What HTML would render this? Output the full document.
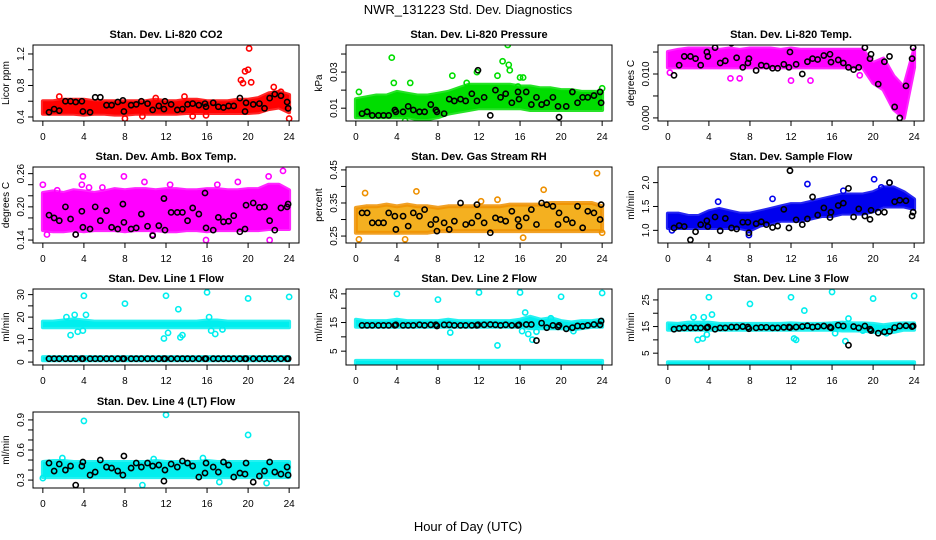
<!DOCTYPE html>
<html><head><meta charset="utf-8"><style>
html,body{margin:0;padding:0;background:#fff;}
svg{display:block;font-family:"Liberation Sans",sans-serif;}
</style></head><body>
<svg id="chart" width="936" height="540" viewBox="0 0 936 540" xmlns="http://www.w3.org/2000/svg">
<text x="468" y="14" text-anchor="middle" font-size="13">NWR_131223 Std. Dev. Diagnostics</text>
<text x="468" y="531" text-anchor="middle" font-size="13">Hour of Day (UTC)</text>
</svg>
<script>
const hours = [0,1,2,3,4,5,6,7,8,9,10,11,12,13,14,15,16,17,18,19,20,21,22,23,24];
const xTicks = [0,4,8,12,16,20,24];
const blkX = [0.6,1.1,1.6,2.2,2.7,3.2,3.8,3.9,4.6,5.1,5.6,6.2,6.7,7.3,7.8,7.9,8.6,9.1,9.6,10.2,10.7,11.3,11.8,11.9,12.5,13.1,13.6,14.1,14.6,15.2,15.8,15.9,16.6,17.1,17.6,18.1,18.6,19.2,19.7,19.8,20.5,21.1,21.6,22.1,22.6,23.2,23.8,23.9];

const co2Lo = [0.44,0.44,0.44,0.44,0.43,0.44,0.44,0.43,0.43,0.44,0.44,0.44,0.44,0.44,0.45,0.45,0.45,0.45,0.45,0.45,0.45,0.46,0.5,0.52,0.46];
const co2Hi = [0.6,0.6,0.62,0.62,0.62,0.6,0.6,0.6,0.6,0.6,0.6,0.62,0.6,0.6,0.62,0.62,0.6,0.6,0.6,0.62,0.62,0.64,0.7,0.72,0.68];
const co2OutX = [19.3,19.5,19.7,20,20.1,20.3,8,9.7,15.9,14.6,24,1.6,11,13.8,22.5,23.2];
const co2OutY = [0.87,0.83,0.98,1.0,1.27,0.84,0.38,0.41,0.42,0.41,0.38,0.66,0.64,0.66,0.78,0.72];
const co2Blk = [0.46,0.5,0.48,0.6,0.6,0.59,0.6,0.47,0.46,0.65,0.65,0.55,0.55,0.59,0.61,0.47,0.55,0.56,0.6,0.57,0.49,0.54,0.5,0.6,0.56,0.49,0.5,0.56,0.57,0.55,0.57,0.53,0.58,0.53,0.52,0.54,0.54,0.64,0.47,0.58,0.56,0.57,0.51,0.64,0.69,0.67,0.59,0.51];

const presLo = [0.005,0.005,0.005,0.005,0.005,0.005,0.004,0.004,0.005,0.007,0.008,0.009,0.01,0.01,0.01,0.01,0.01,0.009,0.009,0.009,0.009,0.009,0.009,0.009,0.009];
const presHi = [0.015,0.016,0.017,0.017,0.019,0.018,0.017,0.017,0.018,0.019,0.021,0.023,0.023,0.023,0.023,0.023,0.022,0.022,0.021,0.021,0.02,0.02,0.019,0.019,0.019];
const presOutX = [3.5,14.8,14.3,14.9,11.8,13.8,9.4,3.7,5.3,16,4.8,24,0.3,10.8,16.3,15,15.8];
const presOutY = [0.038,0.045,0.036,0.034,0.03,0.028,0.028,0.024,0.024,0.027,0.003,0.021,0.019,0.024,0.027,0.031,0.022];
const presBlk = [0.007,0.008,0.006,0.006,0.006,0.006,0.009,0.008,0.008,0.011,0.009,0.008,0.008,0.012,0.009,0.008,0.007,0.015,0.014,0.015,0.014,0.018,0.014,0.031,0.016,0.006,0.02,0.016,0.018,0.013,0.019,0.015,0.019,0.012,0.016,0.012,0.013,0.016,0.011,0.005,0.011,0.019,0.013,0.016,0.016,0.017,0.019,0.013];

const tempLo = [0.0115,0.0115,0.0115,0.0115,0.0115,0.0115,0.0115,0.0115,0.0115,0.0115,0.0115,0.0115,0.0115,0.0115,0.0115,0.0115,0.0115,0.0115,0.0115,0.0115,0.008,0.0065,0.002,0.0,0.0115];
const tempHi = [0.015,0.0155,0.0158,0.0158,0.0158,0.0155,0.0158,0.0155,0.0158,0.0158,0.0158,0.0155,0.0158,0.0155,0.0155,0.0155,0.0155,0.0155,0.0155,0.0155,0.0125,0.0135,0.0095,0.007,0.0155];
const tempOutX = [6.1,7,12,13.9,18.7,21.8,0.2];
const tempOutY = [0.009,0.009,0.0085,0.0085,0.0097,0.0078,0.0103];
const tempBlk = [0.0097,0.012,0.014,0.014,0.0135,0.012,0.015,0.014,0.016,0.0125,0.013,0.017,0.0137,0.0115,0.0125,0.0135,0.0108,0.012,0.0118,0.0113,0.0113,0.0122,0.0115,0.015,0.0122,0.01,0.0128,0.0135,0.0133,0.0142,0.0145,0.0127,0.0132,0.0125,0.0115,0.011,0.0115,0.016,0.0135,0.0145,0.0077,0.0128,0.014,0.0025,0.0,0.0073,0.0135,0.016];

const ambLo = [0.158,0.156,0.156,0.158,0.156,0.158,0.158,0.158,0.156,0.158,0.158,0.158,0.156,0.156,0.158,0.158,0.156,0.158,0.158,0.158,0.158,0.158,0.16,0.16,0.16];
const ambHi = [0.225,0.228,0.225,0.23,0.228,0.225,0.228,0.232,0.23,0.232,0.232,0.23,0.232,0.232,0.23,0.23,0.232,0.232,0.23,0.23,0.232,0.232,0.24,0.24,0.23];
const ambOutX = [0,0.4,3.9,3.8,4.5,7.9,9.9,15.9,22.1,23.4,22,19,12.4,1.4,5.8,17,3.2,10.7];
const ambOutY = [0.24,0.15,0.255,0.24,0.235,0.255,0.245,0.14,0.14,0.265,0.255,0.245,0.24,0.23,0.235,0.24,0.15,0.15];
const ambBlk = [0.185,0.18,0.175,0.2,0.178,0.15,0.192,0.163,0.16,0.2,0.175,0.193,0.163,0.16,0.205,0.172,0.16,0.162,0.187,0.165,0.148,0.166,0.215,0.158,0.19,0.19,0.19,0.175,0.198,0.187,0.225,0.162,0.158,0.181,0.173,0.174,0.184,0.155,0.16,0.203,0.207,0.199,0.2,0.175,0.158,0.198,0.2,0.205];

const rhLo = [0.26,0.26,0.26,0.26,0.26,0.26,0.26,0.26,0.265,0.265,0.265,0.265,0.265,0.265,0.265,0.265,0.265,0.265,0.265,0.265,0.265,0.265,0.265,0.265,0.265];
const rhHi = [0.335,0.34,0.34,0.345,0.34,0.345,0.34,0.34,0.335,0.34,0.34,0.34,0.34,0.34,0.34,0.345,0.345,0.345,0.345,0.35,0.35,0.35,0.35,0.35,0.34];
const rhOutX = [23.5,18.3,0.9,5.9,4.8,0.3,16.3,24,13.8,12.2];
const rhOutY = [0.44,0.39,0.38,0.385,0.24,0.24,0.245,0.26,0.36,0.355];
const rhBlk = [0.32,0.32,0.29,0.29,0.29,0.32,0.31,0.27,0.31,0.28,0.32,0.31,0.33,0.285,0.3,0.265,0.29,0.27,0.295,0.35,0.285,0.29,0.345,0.31,0.29,0.26,0.305,0.3,0.295,0.325,0.3,0.28,0.305,0.33,0.285,0.35,0.345,0.34,0.285,0.32,0.3,0.29,0.34,0.275,0.325,0.32,0.3,0.345];

const sfLo = [1.05,1.05,1.05,1.05,1.05,1.05,1.05,1.05,1.0,1.1,1.15,1.2,1.2,1.2,1.25,1.3,1.3,1.35,1.35,1.35,1.4,1.5,1.5,1.5,1.45];
const sfHi = [1.35,1.35,1.3,1.3,1.4,1.45,1.4,1.35,1.35,1.4,1.45,1.5,1.55,1.55,1.6,1.65,1.7,1.75,1.75,1.75,1.8,1.9,1.9,1.8,1.65];
const sfOutX = [4.9,10.2,13.6,20.1,21.6,7.9,0.4,20.8,17.1];
const sfOutY = [1.6,1.66,1.97,2.07,2.0,0.9,1.0,1.9,1.83];
const sfBlk = [1.05,1.1,1.08,0.8,0.97,1.12,1.2,1.08,1.28,0.99,1.25,1.05,1.03,1.17,1.17,0.95,1.14,1.18,1.12,1.06,1.09,1.44,1.05,2.25,1.22,1.12,1.24,1.7,1.32,1.47,1.27,1.38,1.52,1.57,1.88,1.28,1.45,1.3,1.23,1.42,1.38,1.38,2.0,1.6,1.63,1.62,1.3,1.38];

const l1Lo = [15.5,15.5,15.5,15.5,15.5,15.5,15.5,15.5,15.5,15.5,15.5,15.5,15.5,15.5,15.5,15.5,15.5,15.5,15.5,15.5,15.5,15.5,15.5,15.5,15.5];
const l1Hi = [18,18,18.5,19,18.5,18,18,18,18,18,18,18,18,18,18,18,18.5,18.5,18,18,18,18,18,18,18];
const l1BotLo = [0.8,0.8,0.8,0.8,0.8,0.8,0.8,0.8,0.8,0.8,0.8,0.8,0.8,0.8,0.8,0.8,0.8,0.8,0.8,0.8,0.8,0.8,0.8,0.8,0.8];
const l1BotHi = [2.2,2.2,2.2,2.2,2.2,2.2,2.2,2.2,2.2,2.2,2.2,2.2,2.2,2.2,2.2,2.2,2.2,2.2,2.2,2.2,2.2,2.2,2.2,2.2,2.2];
const l1OutX = [4,8,12,16,20,24,13.2,3.1,2.3,4.2,2.7,3.4,3.9,11.8,12.2,13.4,13.6,16.2,16.4,16.8,17.5];
const l1OutY = [29.5,26,29.5,31,28.3,29,23.5,21,20,21,12,13.5,14,10.5,13,11,12,20,14,12.5,14.5];
const l1Blk = [1.5,1.5,1.5,1.5,1.5,1.5,1.5,1.5,1.5,1.5,1.5,1.5,1.5,1.5,1.5,1.5,1.5,1.5,1.5,1.5,1.5,1.5,1.5,1.5,1.5,1.5,1.5,1.5,1.5,1.5,1.5,1.5,1.5,1.5,1.5,1.5,1.5,1.5,1.5,1.5,1.5,1.5,1.5,1.5,1.5,1.5,1.5,1.5];

const l2Lo = [13.5,13.5,13.5,13.5,13.5,13.5,13.5,13.5,13.5,13.5,13.5,13.5,13.5,13.5,13.5,13.5,13.5,13,13,13,13,12.5,13,13.5,13.5];
const l2Hi = [16,15.5,15.5,15.5,16,15.5,15.5,15.5,15.5,16,15.5,15.5,15.5,15.5,15.5,15.5,16,17,16,16.5,15.5,15,15.5,15.5,16];
const l2BotLo = [0.5,0.5,0.5,0.5,0.5,0.5,0.5,0.5,0.5,0.5,0.5,0.5,0.5,0.5,0.5,0.5,0.5,0.5,0.5,0.5,0.5,0.5,0.5,0.5,0.5];
const l2BotHi = [1.6,1.6,1.6,1.6,1.6,1.6,1.6,1.6,1.6,1.6,1.6,1.6,1.6,1.6,1.6,1.6,1.6,1.6,1.6,1.6,1.6,1.6,1.6,1.6,1.6];
const l2OutX = [4,8,12,16,20,24,13.8,9.2,16.5,16.8,17.2,17.6,16.2,21.2,19];
const l2OutY = [25,23,25.5,25.5,24,25.3,7,11.5,18.5,11,9,11.8,12,12,16.5];
const l2Blk = [14,14,14,14,14,14,14,14.2,14,14,14,14.2,14,14.2,14.2,13.8,14.2,14.2,14,14,14,14,14,14.2,14.2,14.3,14.2,14,14.2,14,14,14.2,14.3,14.3,8.7,14.8,13.2,14,13.5,14,12.8,13.2,13.8,13.7,14,14.3,14.2,15.5];

const l3Lo = [13.8,13.8,13.8,13.8,13.8,13.8,13.8,13.8,13.8,13.8,13.8,13.8,13.8,13.8,13.8,13.8,13.8,13.5,13.5,13.5,13,12.5,13,13.8,13.8];
const l3Hi = [16.2,16,16.5,16.5,16.5,16,16,16,16,16,16,16,16.2,16,16,16,16.2,16.5,16.2,16.2,16,15.5,16,16.2,16.2];
const l3BotLo = [0.5,0.5,0.5,0.5,0.5,0.5,0.5,0.5,0.5,0.5,0.5,0.5,0.5,0.5,0.5,0.5,0.5,0.5,0.5,0.5,0.5,0.5,0.5,0.5,0.5];
const l3BotHi = [1.6,1.6,1.6,1.6,1.6,1.6,1.6,1.6,1.6,1.6,1.6,1.6,1.6,1.6,1.6,1.6,1.6,1.6,1.6,1.6,1.6,1.6,1.6,1.6,1.6];
const l3OutX = [4,8,12,16,20,24,13.3,2.5,3.5,4.3,2.9,3.4,3.8,12.3,12.5,16.3,17.3,17.6,19,21.3];
const l3OutY = [26,23.5,26,28,25.5,26.5,21,18.5,18.5,19.5,10,10.5,12,10.5,10,12.5,9.5,18,13.5,12.5];
const l3Blk = [14,14.3,14.5,14.5,14.5,14.5,14.5,14.8,14,14.5,14.5,14.8,14.8,15,14.8,14.2,14.5,14.7,14.7,14.5,14.5,14.7,14.8,14.6,14.8,15,15.3,14.8,15,15.2,14.8,14.5,15.5,15.2,8,15,14.5,15.2,14,13.5,12.5,13,13.2,14.6,15.2,15.3,15,15.2];

const l4Lo = [0.33,0.33,0.33,0.33,0.33,0.33,0.33,0.33,0.33,0.33,0.33,0.33,0.33,0.33,0.33,0.33,0.33,0.33,0.33,0.33,0.33,0.33,0.33,0.33,0.33];
const l4Hi = [0.48,0.49,0.49,0.48,0.48,0.48,0.48,0.48,0.48,0.48,0.48,0.49,0.48,0.48,0.48,0.48,0.49,0.48,0.48,0.48,0.48,0.48,0.48,0.48,0.48];
const l4OutX = [4,12,20,0,9.7,15.6,21.8,1.9,10.8,17.2];
const l4OutY = [0.89,0.95,0.75,0.32,0.25,0.52,0.27,0.52,0.51,0.28];
const l4Blk = [0.47,0.39,0.46,0.4,0.44,0.25,0.44,0.48,0.35,0.38,0.5,0.43,0.42,0.39,0.35,0.54,0.42,0.47,0.43,0.47,0.44,0.45,0.29,0.4,0.46,0.43,0.49,0.47,0.44,0.33,0.37,0.47,0.43,0.38,0.48,0.45,0.33,0.37,0.36,0.47,0.28,0.34,0.39,0.48,0.38,0.36,0.43,0.35];

const panels = [
 {name:'co2',title:'Stan. Dev. Li-820 CO2',ylab:'Licor ppm',col:0,row:0,y0:0.349,y1:1.314,ticks:[0.4,0.6,0.8,1.0,1.2],labels:[0.4,0.8,1.2],fmt:1,color:'#ff0000',bands:[[co2Lo,co2Hi]],ox:co2OutX,oy:co2OutY,blk:co2Blk},
 {name:'pressure',title:'Stan. Dev. Li-820 Pressure',ylab:'kPa',col:1,row:0,y0:0.0029,y1:0.045,ticks:[0.01,0.02,0.03,0.04],labels:[0.01,0.03],fmt:2,color:'#00dd00',bands:[[presLo,presHi]],ox:presOutX,oy:presOutY,blk:presBlk},
 {name:'temp',title:'Stan. Dev. Li-820 Temp.',ylab:'degrees C',col:2,row:0,y0:-0.0007,y1:0.0166,ticks:[0,0.005,0.01,0.015],labels:[0,0.01],fmt:3,color:'#ff00ff',bands:[[tempLo,tempHi]],ox:tempOutX,oy:tempOutY,blk:tempBlk},
 {name:'amb-box-temp',title:'Stan. Dev. Amb. Box Temp.',ylab:'degrees C',col:0,row:1,y0:0.1347,y1:0.272,ticks:[0.14,0.16,0.18,0.2,0.22,0.24,0.26],labels:[0.14,0.2,0.26],fmt:2,color:'#ff00ff',bands:[[ambLo,ambHi]],ox:ambOutX,oy:ambOutY,blk:ambBlk},
 {name:'gas-rh',title:'Stan. Dev. Gas Stream RH',ylab:'percent',col:1,row:1,y0:0.229,y1:0.4588,ticks:[0.25,0.3,0.35,0.4,0.45],labels:[0.25,0.35,0.45],fmt:2,color:'#f4b020',stroke:'#ee9000',bands:[[rhLo,rhHi]],ox:rhOutX,oy:rhOutY,blk:rhBlk},
 {name:'sample-flow',title:'Stan. Dev. Sample Flow',ylab:'ml/min',col:2,row:1,y0:0.735,y1:2.327,ticks:[1.0,1.5,2.0],labels:[1.0,1.5,2.0],fmt:1,color:'#0000ee',bands:[[sfLo,sfHi]],ox:sfOutX,oy:sfOutY,blk:sfBlk},
 {name:'line1-flow',title:'Stan. Dev. Line 1 Flow',ylab:'ml/min',col:0,row:2,y0:-1.3,y1:32.5,ticks:[0,5,10,15,20,25,30],labels:[0,10,20,30],fmt:0,color:'#00eeee',bands:[[l1Lo,l1Hi],[l1BotLo,l1BotHi]],ox:l1OutX,oy:l1OutY,blk:l1Blk},
 {name:'line2-flow',title:'Stan. Dev. Line 2 Flow',ylab:'ml/min',col:1,row:2,y0:0.17,y1:26.7,ticks:[5,10,15,20,25],labels:[5,15,25],fmt:0,color:'#00eeee',bands:[[l2Lo,l2Hi],[l2BotLo,l2BotHi]],ox:l2OutX,oy:l2OutY,blk:l2Blk},
 {name:'line3-flow',title:'Stan. Dev. Line 3 Flow',ylab:'ml/min',col:2,row:2,y0:0.56,y1:29.1,ticks:[5,10,15,20,25],labels:[5,15,25],fmt:0,color:'#00eeee',bands:[[l3Lo,l3Hi],[l3BotLo,l3BotHi]],ox:l3OutX,oy:l3OutY,blk:l3Blk},
 {name:'line4-flow',title:'Stan. Dev. Line 4 (LT) Flow',ylab:'ml/min',col:0,row:3,y0:0.221,y1:0.979,ticks:[0.3,0.4,0.5,0.6,0.7,0.8,0.9],labels:[0.3,0.6,0.9],fmt:1,color:'#00eeee',bands:[[l4Lo,l4Hi]],ox:l4OutX,oy:l4OutY,blk:l4Blk}
];

const NS = 'http://www.w3.org/2000/svg';
const svg = document.getElementById('chart');
const colLeft = [33, 346, 658], boxW = 266;
const rowTop = [45, 167, 289, 412], boxH = 76;
function mk(tag, attrs, parent){const e=document.createElementNS(NS,tag);for(const k in attrs)e.setAttribute(k,attrs[k]);(parent||svg).appendChild(e);return e;}

panels.forEach((p, pi) => {
  const L = colLeft[p.col], T = rowTop[p.row], R = L + boxW, B = T + boxH;
  const xs = v => L + (v + 0.96) / 25.92 * boxW;
  const ys = v => B - (v - p.y0) / (p.y1 - p.y0) * boxH;
  const g = mk('g', {});
  
  
  const cp = mk('clipPath', {id: 'clip' + pi}, g);
  mk('rect', {x: L, y: T, width: boxW, height: boxH}, cp);
  const data = mk('g', {'clip-path': 'url(#clip' + pi + ')'}, g);
  const strokeC = p.stroke || p.color;
  p.bands.forEach((bd, bi) => {
    const lo = bd[0], hi = bd[1];
    let pts = hours.map((h, i) => xs(h).toFixed(1) + ',' + ys(hi[i]).toFixed(1));
    for (let i = hours.length - 1; i >= 0; i--) pts.push(xs(hours[i]).toFixed(1) + ',' + ys(lo[i]).toFixed(1));
    const poly = mk('polygon', {points: pts.join(' '), fill: p.color, stroke: strokeC, 'stroke-width': 4, 'stroke-linejoin': 'round', 'stroke-opacity': 0.85}, data);
    
    
  });
  p.ox.forEach((x, i) => {
    const c = mk('circle', {cx: xs(x), cy: ys(p.oy[i]), r: 2.6, fill: 'none', stroke: strokeC, 'stroke-width': 1.6}, data);
    
    
  });
  const n = Math.min(blkX.length, p.blk.length);
  for (let i = 0; i < n; i++) {
    const c = mk('circle', {cx: xs(blkX[i]), cy: ys(p.blk[i]), r: 2.6, fill: 'none', stroke: '#000', 'stroke-width': 1.6}, data);
    
    
  }
  const box = mk('rect', {x: L, y: T, width: boxW, height: boxH, fill: 'none', stroke: '#000', 'stroke-width': 1}, g);
  
  
  const xa = mk('g', {}, g);
  
  
  mk('line', {x1: xs(xTicks[0]), x2: xs(xTicks[xTicks.length-1]), y1: B, y2: B, stroke: '#000'}, xa);
  xTicks.forEach(t => {
    mk('line', {x1: xs(t), x2: xs(t), y1: B, y2: B + 5, stroke: '#000'}, xa);
    const tx = mk('text', {x: xs(t), y: B + 19, 'text-anchor': 'middle', 'font-size': 10}, xa);
    tx.textContent = t;
  });
  const ya = mk('g', {}, g);
  
  
  mk('line', {x1: L, x2: L, y1: ys(p.ticks[0]), y2: ys(p.ticks[p.ticks.length-1]), stroke: '#000'}, ya);
  p.ticks.forEach(t => mk('line', {x1: L - 5, x2: L, y1: ys(t), y2: ys(t), stroke: '#000'}, ya));
  p.labels.forEach(t => {
    const yy = ys(t), xx = L - 9;
    const tx = mk('text', {x: xx, y: yy, 'text-anchor': 'middle', 'font-size': 10, transform: 'rotate(-90 ' + xx + ' ' + yy + ')'}, ya);
    tx.textContent = t.toFixed(p.fmt);
  });
  const yl = mk('text', {x: L - 24, y: (T + B) / 2, 'text-anchor': 'middle', 'font-size': 10, transform: 'rotate(-90 ' + (L - 24) + ' ' + ((T + B) / 2) + ')'}, g);
  
  
  yl.textContent = p.ylab;
  const tt = mk('text', {x: (L + R) / 2, y: T - 7, 'text-anchor': 'middle', 'font-size': 11, 'font-weight': 'bold'}, g);
  
  
  tt.textContent = p.title;
});
</script>
</body></html>
